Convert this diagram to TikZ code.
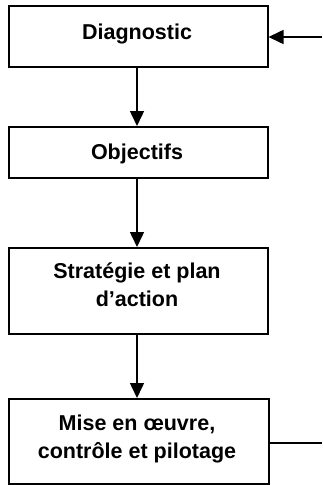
\documentclass[tikz,border=0pt]{standalone}
\usepackage{fontspec}
\setmainfont{Liberation Sans}
\usetikzlibrary{arrows.meta}
\begin{document}
\begin{tikzpicture}[x=1pt,y=-1pt,
  stepbox/.style={draw=black,line width=1.5pt,fill=white,rectangle,inner sep=0pt,anchor=north west},
  steptext/.style={font=\fontsize{21.5}{28}\selectfont\bfseries,align=center,anchor=base,inner sep=0pt},
  flow/.style={draw=black,line width=1.5pt,-{Triangle[length=15pt,width=14pt]}},
  plain/.style={draw=black,line width=1.5pt}]
\useasboundingbox (0,0) rectangle (322,485);
\node[stepbox,minimum width=259pt,minimum height=61pt] (diag) at (8,5) {};
\node[stepbox,minimum width=259pt,minimum height=51pt] (obj) at (8,126) {};
\node[stepbox,minimum width=259pt,minimum height=86pt] (strat) at (8,247) {};
\node[stepbox,minimum width=260pt,minimum height=85pt] (mise) at (8,398) {};
\node[steptext] (diagT) at (137,39) {Diagnostic};
\node[steptext] (objT) at (137,159) {Objectifs};
\node[steptext] (stratT) at (137,306) {Stratégie et plan\\d’action};
\node[steptext] (miseT) at (137,458) {Mise en œuvre,\\contrôle et pilotage};
\coordinate (inR) at (322,37);
\coordinate (outR) at (322,443);
\draw[flow] (diag.south -| 137,0) -- (obj.north -| 137,0);
\draw[flow] (obj.south -| 137,0) -- (strat.north -| 137,0);
\draw[flow] (strat.south -| 137,0) -- (mise.north -| 137,0);
\draw[flow] (inR) -- (inR -| diag.east);
\draw[plain] (outR -| mise.east) -- (outR);
\end{tikzpicture}
\end{document}
